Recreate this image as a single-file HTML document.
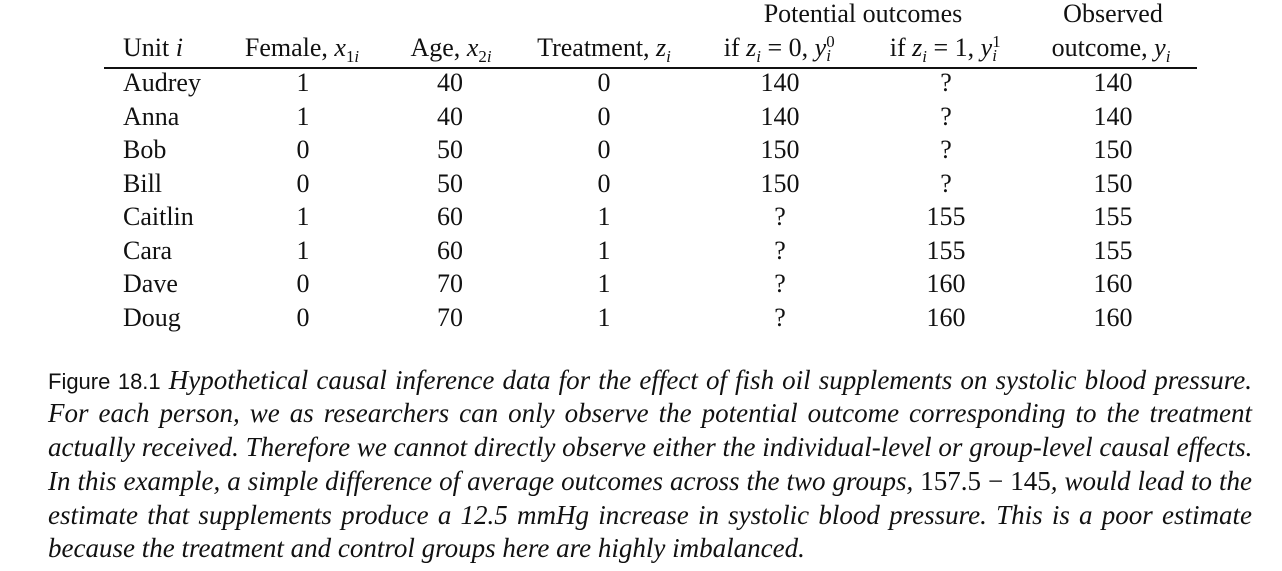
<!DOCTYPE html>
<html><head><style>
body{margin:0;width:1282px;height:571px;background:#fff;position:relative;font-family:"Liberation Serif",serif;color:#111;overflow:hidden}
.t{position:absolute;font-size:26px;line-height:28px;white-space:nowrap;transform:translate(-50%,-50%)}
.l{position:absolute;font-size:26px;line-height:28px;white-space:nowrap;transform:translateY(-50%);left:123px}
i{font-style:italic}
.cap{position:absolute;left:48px;width:1204px;font-size:27px;line-height:30px;font-style:italic;text-align:justify;text-align-last:justify;white-space:nowrap;transform:translateY(-50%)}
.fig{font-family:"Liberation Sans",sans-serif;font-style:normal;font-size:22px}
.s{font-size:65%;position:relative;top:6px;line-height:0}
.ss{display:inline-block;position:relative;width:10px;height:10px}
.ss span{position:absolute;left:0;font-size:65%;line-height:1}
</style></head><body>
<div class="t" style="left:863px;top:14px">Potential outcomes</div>
<div class="t" style="left:1113px;top:14px">Observed</div>
<div class="l" style="top:48px">Unit <i>i</i></div>
<div class="t" style="left:302px;top:48px">Female, <i>x</i><span class="s">1<i>i</i></span></div>
<div class="t" style="left:451px;top:48px">Age, <i>x</i><span class="s">2<i>i</i></span></div>
<div class="t" style="left:604px;top:48px">Treatment, <i>z</i><span class="s"><i>i</i></span></div>
<div class="t" style="left:780px;top:48px">if <i>z</i><span class="s"><i>i</i></span> = 0, <i>y</i><span class="ss"><span style="top:-12px">0</span><span style="top:2px"><i>i</i></span></span></div>
<div class="t" style="left:946px;top:48px">if <i>z</i><span class="s"><i>i</i></span> = 1, <i>y</i><span class="ss"><span style="top:-12px">1</span><span style="top:2px"><i>i</i></span></span></div>
<div class="t" style="left:1111px;top:48px">outcome, <i>y</i><span class="s"><i>i</i></span></div>
<div style="position:absolute;left:104px;top:67px;width:1093px;height:1.5px;background:#111"></div>
<div id="rows"></div>
<script>
var d=[["Audrey",1,40,0,140,"?",140],["Anna",1,40,0,140,"?",140],["Bob",0,50,0,150,"?",150],["Bill",0,50,0,150,"?",150],["Caitlin",1,60,1,"?",155,155],["Cara",1,60,1,"?",155,155],["Dave",0,70,1,"?",160,160],["Doug",0,70,1,"?",160,160]];
var xs=[303,450,604,780,946,1113],h="";
d.forEach(function(r,i){var y=83+i*33.5;h+='<div class="l" style="top:'+y+'px">'+r[0]+'</div>';for(var j=1;j<7;j++)h+='<div class="t" style="left:'+xs[j-1]+'px;top:'+y+'px">'+r[j]+'</div>';});
document.getElementById("rows").innerHTML=h;
</script>
<div class="cap" style="top:381px"><span class="fig">Figure 18.1</span> Hypothetical causal inference data for the effect of fish oil supplements on systolic blood pressure.</div>
<div class="cap" style="top:413px">For each person, we as researchers can only observe the potential outcome corresponding to the treatment</div>
<div class="cap" style="top:447px">actually received. Therefore we cannot directly observe either the individual-level or group-level causal effects.</div>
<div class="cap" style="top:481px">In this example, a simple difference of average outcomes across the two groups, <span style="font-style:normal">157.5 − 145</span>, would lead to the</div>
<div class="cap" style="top:515px">estimate that supplements produce a 12.5 mmHg increase in systolic blood pressure. This is a poor estimate</div>
<div class="cap" style="top:548px;text-align-last:left">because the treatment and control groups here are highly imbalanced.</div>
</body></html>
